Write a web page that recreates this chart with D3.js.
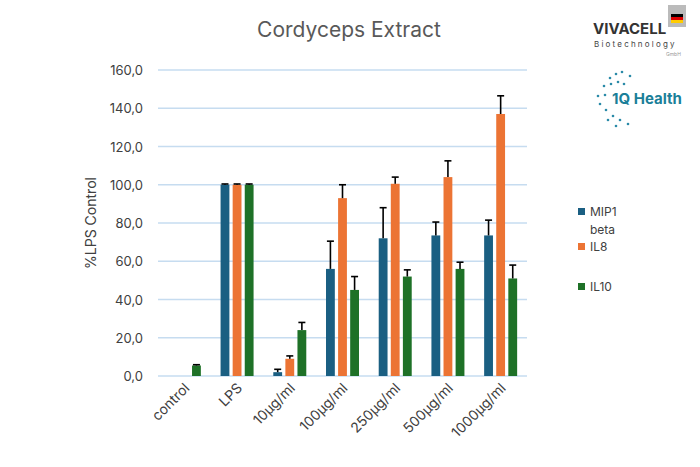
<!DOCTYPE html>
<html><head><meta charset="utf-8">
<script src="https://cdn.jsdelivr.net/npm/d3@7"></script>
<style>body{margin:0;background:#fff;font-family:Inter,"Open Sans",sans-serif}</style>
</head><body><svg id="c" width="700" height="467"></svg>
<script>
const categories = ['control','LPS','10µg/ml','100µg/ml','250µg/ml','500µg/ml','1000µg/ml'];
const seriesNames = ['MIP1 beta','IL8','IL10'];
const colors = ['#1a5f82','#ec7434','#1e7127'];
const mip1 = [0,100,2,56,72,73.5,73.5];
const mip1Err = [0,0.4,1.5,14.5,16,7,8];
const il8 = [0,100,9,93,100.5,104,137];
const il8Err = [0,0.4,1.5,7,3.5,8.5,9.5];
const il10 = [5.5,100,24,45,52,56,51];
const il10Err = [0.4,0.4,4,7,3.5,3.5,7];
const yTicks = [0,20,40,60,80,100,120,140,160];

const svg = d3.select('#c');
const x = d3.scaleBand().domain(categories).range([158,527]);
const y = d3.scaleLinear().domain([0,160]).range([376,70]);
const inner = d3.scaleBand().domain([0,1,2]).range([-16.5,16.5]).paddingInner(0.27);
const fmt = d => d.toFixed(1).replace('.', ',');

svg.append('g').selectAll('line').data(yTicks).join('line')
  .attr('x1',158).attr('x2',527).attr('y1',d=>y(d)).attr('y2',d=>y(d))
  .attr('stroke','#c6dcf0').attr('stroke-width',1.4);
svg.append('g').selectAll('text').data(yTicks).join('text')
  .attr('x',143).attr('y',d=>y(d)+5).attr('text-anchor','end')
  .attr('font-size',13).attr('fill','#404040').text(fmt);

const series = [[mip1,mip1Err],[il8,il8Err],[il10,il10Err]];
series.forEach(([vals,errs],s) => {
  const g = svg.append('g');
  const cx = i => x(categories[i]) + x.bandwidth()/2 + inner(s) + inner.bandwidth()/2;
  g.selectAll('rect').data(vals).join('rect')
    .attr('x',(d,i)=>cx(i)-inner.bandwidth()/2).attr('width',inner.bandwidth())
    .attr('y',d=>y(d)).attr('height',d=>y(0)-y(d)).attr('fill',colors[s]);
  vals.forEach((v,i) => {
    if (v === 0) return;
    const top = y(v+errs[i]);
    g.append('line').attr('x1',cx(i)).attr('x2',cx(i)).attr('y1',y(v)).attr('y2',top).attr('stroke','#000').attr('stroke-width',1.6);
    g.append('line').attr('x1',cx(i)-3.5).attr('x2',cx(i)+3.5).attr('y1',top).attr('y2',top).attr('stroke','#000').attr('stroke-width',1.6);
  });
});

svg.append('g').selectAll('text').data(categories).join('text')
  .attr('transform',d=>`translate(${x(d)+x.bandwidth()/2+6},${389}) rotate(-45)`)
  .attr('text-anchor','end').attr('font-size',14).attr('fill','#404040').text(d=>d);

svg.append('text').attr('x',349).attr('y',37).attr('text-anchor','middle')
  .attr('font-size',21).attr('fill','#595959').text('Cordyceps Extract');
svg.append('text').attr('transform','translate(96,223) rotate(-90)').attr('text-anchor','middle')
  .attr('font-size',14).attr('fill','#404040').text('%LPS Control');

const legY = [212,247,287];
seriesNames.forEach((n,i) => {
  svg.append('rect').attr('x',578).attr('y',legY[i]-4).attr('width',7).attr('height',7).attr('fill',colors[i]);
  const t = svg.append('text').attr('x',590).attr('y',legY[i]+4).attr('font-size',12).attr('fill','#404040');
  if (n === 'MIP1 beta') {
    t.text('MIP1');
    svg.append('text').attr('x',590).attr('y',legY[i]+22).attr('font-size',12).attr('fill','#404040').text('beta');
  } else t.text(n);
});

// logos
svg.append('rect').attr('x',668).attr('y',5).attr('width',18).attr('height',22).attr('fill','#bbb');
svg.append('rect').attr('x',671).attr('y',14).attr('width',12).attr('height',3).attr('fill','#000');
svg.append('rect').attr('x',671).attr('y',17).attr('width',12).attr('height',3).attr('fill','#d00');
svg.append('rect').attr('x',671).attr('y',20).attr('width',12).attr('height',3).attr('fill','#fc0');
svg.append('text').attr('x',593).attr('y',34).attr('font-size',15).attr('font-weight','bold').attr('fill','#333').text('VIVACELL');
svg.append('text').attr('x',594).attr('y',47).attr('font-size',8).attr('letter-spacing',2.2).attr('fill','#444').text('Biotechnology');
svg.append('text').attr('x',666).attr('y',56).attr('font-size',5).attr('fill','#999').text('GmbH');
svg.append('text').attr('x',612).attr('y',104).attr('font-size',15).attr('font-weight','bold').attr('fill','#1b7f99').text('1Q Health');
const dots = [[610,78],[616,74],[622,72],[604,86],[611,84],[618,82],[598,96],[605,95],[600,104],[606,110],[613,116],[620,120],[628,124],[608,120],[616,126],[624,84],[630,76]];
svg.append('g').selectAll('circle').data(dots).join('circle')
  .attr('cx',d=>d[0]).attr('cy',d=>d[1]).attr('r',1.3).attr('fill','#2a8aa8');
</script></body></html>
